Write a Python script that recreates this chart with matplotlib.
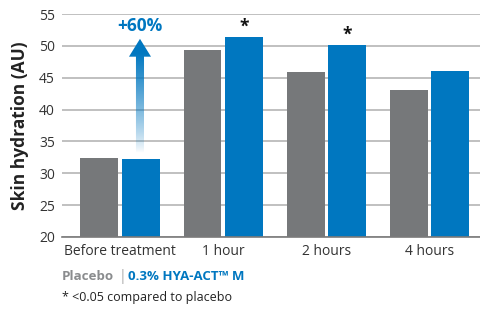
import numpy as np
import matplotlib
matplotlib.use("Agg")
import matplotlib.pyplot as plt
from matplotlib.patches import Polygon

plt.rcParams['font.family'] = ['Open Sans', 'DejaVu Sans']

categories = ["Before treatment", "1 hour", "2 hours", "4 hours"]
placebo = [32.4, 49.4, 45.9, 43.1]
hya_act = [32.2, 51.4, 50.1, 46.1]
significant = [False, True, True, False]
yticks = [20, 25, 30, 35, 40, 45, 50, 55]

GRAY = "#76787a"
BLUE = "#0077c0"

fig = plt.figure(figsize=(4.81, 3.09), dpi=100)
ax = fig.add_axes([62 / 481, 1 - 237 / 309, 1 - 62 / 481, (237 - 14) / 309])

x = np.arange(len(categories))
w = 0.368
off = 0.2
ax.bar(x - off, placebo, w, color=GRAY, zorder=2)
ax.bar(x + off, hya_act, w, color=BLUE, zorder=2)

for xi, v, s in zip(x, hya_act, significant):
    if s:
        ax.text(xi + off, v + 0.2, "*", ha="center", va="bottom",
                fontsize=12.5, fontweight="bold", color="#111111")

ax.set_ylim(20, 55)
ax.set_xlim(-0.562, 3.5)
ax.set_yticks(yticks)
ax.set_xticks(x)
ax.set_xticklabels(categories)
ax.tick_params(length=0, labelsize=10, colors="#333333")
ax.tick_params(axis="y", pad=5)
ax.tick_params(axis="x", pad=5)
ax.grid(axis="y", color="#b5b5b5", linewidth=1.2, zorder=0)
for sp in ["left", "right", "top"]:
    ax.spines[sp].set_visible(False)
ax.spines["bottom"].set_color("#7a7a7a")
ax.spines["bottom"].set_linewidth(1.2)
ax.set_ylabel("Skin hydration (AU)", fontsize=12.5, fontweight="bold",
              color="#222222", labelpad=7)

# gradient arrow over the first blue bar
ax_x = off - 0.006
y0, ytip, yhead = 33.2, 51.1, 48.3
sw, hw = 0.039, 0.107
arrow = Polygon([(ax_x - sw, y0), (ax_x + sw, y0), (ax_x + sw, yhead),
                 (ax_x + hw, yhead), (ax_x, ytip), (ax_x - hw, yhead),
                 (ax_x - sw, yhead)], closed=True, facecolor="none",
                edgecolor="none", transform=ax.transData)
ax.add_patch(arrow)
grad = np.zeros((200, 1, 4))
rgb = matplotlib.colors.to_rgb(BLUE)
grad[..., 0], grad[..., 1], grad[..., 2] = rgb
a = np.linspace(1, 0, 200)
grad[:, 0, 3] = np.clip(a * 1.15, 0, 1) ** 0.8
im = ax.imshow(grad, extent=[ax_x - hw, ax_x + hw, y0, ytip], aspect="auto",
               zorder=3, interpolation="bilinear")
im.set_clip_path(arrow)
ax.set_xlim(-0.562, 3.5)
ax.set_ylim(20, 55)
ax.text(ax_x, 52.3, "+60%", ha="center", va="baseline", fontsize=12.5,
        fontweight="bold", color=BLUE)

# legend text
fig.text(62 / 481, 1 - 276 / 309, "Placebo", fontsize=9.6, fontweight="bold",
         color="#8a8c8e", va="center")
fig.text(119 / 481, 1 - 276 / 309, "|", fontsize=10, color="#aaaaaa",
         va="center")
fig.text(128 / 481, 1 - 276 / 309, "0.3% HYA-ACT\u2122 M", fontsize=9.5,
         fontweight="bold", color=BLUE, va="center")
fig.text(62 / 481, 1 - 298 / 309, "* <0.05 compared to placebo", fontsize=9,
         color="#222222", va="center")

fig.savefig("out.png", dpi=100)
